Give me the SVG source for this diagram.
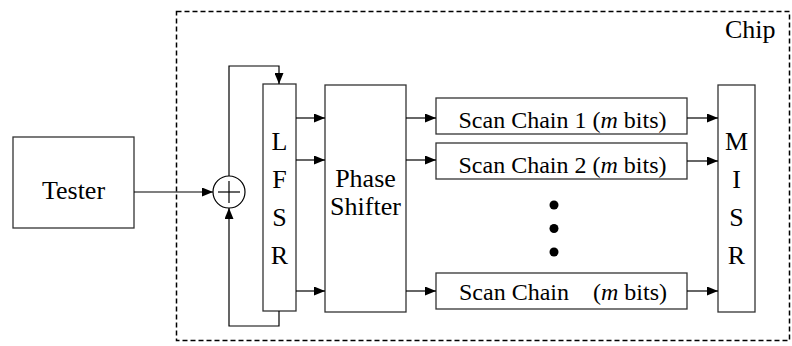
<svg xmlns="http://www.w3.org/2000/svg" width="792" height="346" viewBox="0 0 792 346">
<style>
.box{fill:#fff;stroke:#333;stroke-width:1.3}
.ln{fill:none;stroke:#000;stroke-width:1.2}
.t{font-family:"Liberation Serif","Times New Roman",serif;font-size:26px;fill:#000}
.s{font-family:"Liberation Serif","Times New Roman",serif;font-size:24px;fill:#000}
.c{text-anchor:middle}
</style>
<defs>
<marker id="ah" markerUnits="userSpaceOnUse" markerWidth="11" markerHeight="9" refX="11" refY="4.5" orient="auto">
<path d="M0,0 L11,4.5 L0,9 z" fill="#000"/>
</marker>
</defs>
<g id="chip">
<rect x="176.5" y="11.5" width="613" height="329" fill="none" stroke="#000" stroke-width="1.5" stroke-dasharray="5 3"/>
<text class="t" x="725" y="38">Chip</text>
</g>
<g id="tester">
<rect class="box" x="13" y="137" width="121" height="91"/>
<text class="t c" x="73.5" y="199">Tester</text>
</g>
<g id="xor">
<circle cx="229" cy="192" r="16" fill="#fff" stroke="#000" stroke-width="1.2"/>
<line class="ln" x1="218" y1="192" x2="240" y2="192"/>
<line class="ln" x1="229" y1="181" x2="229" y2="203"/>
</g>
<g id="lfsr">
<rect class="box" x="263" y="84" width="33" height="227"/>
<text class="t c" x="279.5" y="150">L</text>
<text class="t c" x="279.5" y="188">F</text>
<text class="t c" x="279.5" y="226">S</text>
<text class="t c" x="279.5" y="264">R</text>
</g>
<g id="phase-shifter">
<rect class="box" x="325" y="85" width="81" height="227"/>
<text class="t c" x="365.5" y="187">Phase</text>
<text class="t c" x="365.5" y="215">Shifter</text>
</g>
<g id="scan-chain-1">
<rect class="box" x="436" y="98" width="251" height="36"/>
<text class="s c" x="562.5" y="128">Scan Chain 1 (<tspan font-style="italic">m</tspan> bits)</text>
</g>
<g id="scan-chain-2">
<rect class="box" x="436" y="143" width="251" height="36"/>
<text class="s c" x="562.5" y="173">Scan Chain 2 (<tspan font-style="italic">m</tspan> bits)</text>
</g>
<g id="dots">
<circle cx="554" cy="205" r="4.5" fill="#000"/>
<circle cx="554" cy="228.5" r="4.5" fill="#000"/>
<circle cx="554" cy="252" r="4.5" fill="#000"/>
</g>
<g id="scan-chain-n">
<rect class="box" x="436" y="273" width="251" height="36"/>
<text class="s" x="459" y="300">Scan Chain</text>
<text class="s" x="667" y="300" text-anchor="end">(<tspan font-style="italic">m</tspan> bits)</text>
</g>
<g id="misr">
<rect class="box" x="718" y="85" width="37" height="227"/>
<text class="t c" x="736.5" y="150">M</text>
<text class="t c" x="736.5" y="188">I</text>
<text class="t c" x="736.5" y="226">S</text>
<text class="t c" x="736.5" y="264">R</text>
</g>
<g id="connectors">
<line class="ln" x1="134" y1="192" x2="213" y2="192" marker-end="url(#ah)"/>
<polyline class="ln" points="229,176 229,66 279,66 279,84" marker-end="url(#ah)"/>
<polyline class="ln" points="279,311 279,326 229,326 229,208" marker-end="url(#ah)"/>
<line class="ln" x1="296" y1="118" x2="325" y2="118" marker-end="url(#ah)"/>
<line class="ln" x1="296" y1="160" x2="325" y2="160" marker-end="url(#ah)"/>
<line class="ln" x1="296" y1="291" x2="325" y2="291" marker-end="url(#ah)"/>
<line class="ln" x1="406" y1="118" x2="436" y2="118" marker-end="url(#ah)"/>
<line class="ln" x1="406" y1="160" x2="436" y2="160" marker-end="url(#ah)"/>
<line class="ln" x1="406" y1="291" x2="436" y2="291" marker-end="url(#ah)"/>
<line class="ln" x1="687" y1="118" x2="718" y2="118" marker-end="url(#ah)"/>
<line class="ln" x1="687" y1="161" x2="718" y2="161" marker-end="url(#ah)"/>
<line class="ln" x1="687" y1="291" x2="718" y2="291" marker-end="url(#ah)"/>
</g>
</svg>
